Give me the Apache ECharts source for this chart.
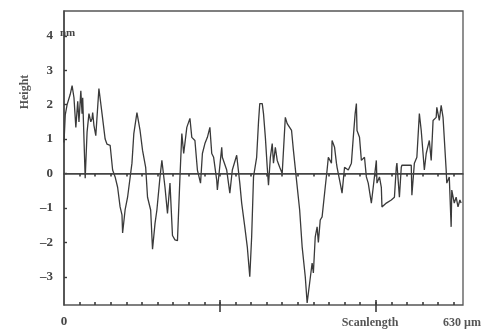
<!DOCTYPE html>
<html>
<head>
<meta charset="utf-8">
<script src="https://cdn.jsdelivr.net/npm/echarts@6/dist/echarts.min.js"></script>
<style>
  html, body { margin: 0; padding: 0; background: #fff; }
  #chart { width: 488px; height: 336px; }
</style>
</head>
<body>
<div id="chart"></div>
<script>
// scan position (µm) and surface height (nm)
const scanX = [
  0, 2, 5, 10, 13, 16, 19, 22, 24, 27, 29, 30, 34, 37, 40, 43, 45, 46, 48, 51,
  56, 61, 66, 69, 74, 78, 82, 86, 90, 93, 94, 98, 102, 109, 112, 117, 122, 126, 131, 134,
  139, 142, 146, 149, 154, 157, 162, 166, 170, 174, 178, 182, 186, 189, 192, 197, 202, 205, 210, 214,
  219, 222, 226, 230, 234, 237, 240, 245, 246, 253, 254, 261, 266, 270, 277, 282, 285, 290, 294, 298,
  301, 304, 309, 312, 314, 318, 320, 323, 326, 328, 331, 334, 336, 339, 342, 346, 350, 355, 358, 365,
  368, 373, 378, 382, 387, 390, 394, 398, 400, 403, 406, 408, 411, 414, 419, 422, 424, 429, 430, 434,
  437, 438, 443, 446, 450, 453, 456, 461, 464, 467, 469, 470, 474, 477, 482, 485, 488, 493, 496, 501,
  502, 506, 509, 510, 517, 525, 530, 533, 534, 538, 541, 542, 550, 557, 558, 562, 566, 570, 573, 578,
  581, 586, 589, 592, 597, 598, 602, 605, 608, 613, 614, 618, 621, 622, 626, 629, 632, 635, 637
];
const height = [
  0.9, 1.7, 2.0, 2.3, 2.55, 2.2, 1.34, 2.1, 1.5, 2.4, 1.74, 2.2, -0.14, 1.2, 1.74, 1.5, 1.6, 1.77, 1.4, 1.1,
  2.47, 1.74, 1.0, 0.85, 0.82, 0.1, -0.1, -0.4, -0.97, -1.2, -1.73, -1.06, -0.69, 0.3, 1.16, 1.77, 1.25, 0.67, 0.18, -0.69,
  -1.06, -2.2, -1.45, -1.06, -0.1, 0.38, -0.4, -1.16, -0.28, -1.8, -1.93, -1.95, -0.1, 1.16, 0.58, 1.34, 1.6, 1.05, 0.96, 0.1,
  -0.28, 0.58, 0.87, 1.05, 1.34, 0.58, 0.47, -0.2, -0.48, 0.76, 0.47, 0.1, -0.57, 0.1, 0.53, -0.28, -0.86, -1.55, -2.13, -3.0,
  -1.84, -0.1, 0.47, 1.5, 2.03, 2.03, 1.74, 1.05, 0.18, -0.34, 0.47, 0.87, 0.3, 0.76, 0.38, 0.18, 0.0, 1.63, 1.45, 1.25,
  0.67, -0.2, -1.06, -2.13, -3.0, -3.76, -3.18, -2.6, -2.89, -1.84, -1.55, -2.0, -1.35, -1.26, -0.4, 0.1, 0.47, 0.3, 0.96, 0.76,
  0.3, 0.18, -0.28, -0.57, 0.18, 0.18, 0.1, 0.3, 1.05, 1.74, 2.03, 1.25, 1.05, 0.38, 0.47, -0.1, -0.28, -0.86, -0.4, 0.38,
  -0.28, -0.1, -0.4, -0.97, -0.86, -0.77, -0.69, 0.18, 0.3, -0.69, 0.18, 0.24, 0.24, 0.24, -0.63, 0.3, 0.47, 1.74, 1.25, 0.1,
  0.58, 0.96, 0.38, 1.54, 1.63, 1.92, 1.54, 1.98, 1.63, 0.1, -0.28, -0.1, -1.55, -0.48, -0.86, -0.69, -0.97, -0.77, -0.86
];
const yTicks = [-3, -2, -1, 0, 1, 2, 3, 4];
const xMinorTicks = [25, 50, 75, 100, 125, 150, 175, 200, 225, 275, 300, 325, 350, 375, 400, 425, 450, 475, 525, 550, 575, 600, 625];
const xMajorTicks = [250, 500];
const xLabels = [0];

const ink = '#3c3c3c';
const serif = '"Liberation Serif", "DejaVu Serif", serif';

const chart = echarts.init(document.getElementById('chart'), null, { renderer: 'canvas' });

function tickAxis(values, len, inside) {
  return {
    type: 'value', min: 0, max: 640, position: 'bottom',
    axisLine: { show: false },
    splitLine: { show: false },
    axisLabel: { show: false },
    axisTick: { show: true, inside, length: len, customValues: values, lineStyle: { color: ink, width: 1.6 } }
  };
}

chart.setOption({
  animation: false,
  backgroundColor: '#fff',
  grid: { left: 64, right: 25, top: 11, bottom: 31, show: true, borderColor: '#555', borderWidth: 1.3 },
  xAxis: [
    {
      type: 'value', min: 0, max: 640, position: 'bottom',
      axisLine: { show: true, lineStyle: { color: '#444', width: 1.5 } },
      splitLine: { show: false },
      axisTick: { show: true, length: 3, customValues: xMinorTicks.concat(xMajorTicks), lineStyle: { color: ink, width: 1.6 } },
      axisLabel: {
        customValues: xLabels, margin: 10, color: '#444',
        fontFamily: serif, fontWeight: 'bold', fontSize: 13
      }
    },
    tickAxis(xMinorTicks.concat(xMajorTicks), 3, true),
    tickAxis(xMajorTicks, 7, false),
    tickAxis(xMajorTicks, 5, true)
  ],
  yAxis: {
    type: 'value', min: -3.82, max: 4.72,
    axisLine: { show: true, lineStyle: { color: '#444', width: 1.5 } },
    splitLine: { show: false },
    axisTick: { show: true, inside: true, length: 3, customValues: yTicks, lineStyle: { color: ink, width: 1.4 } },
    axisLabel: {
      customValues: yTicks, margin: 11, color: '#444',
      fontFamily: serif, fontWeight: 'bold', fontSize: 13,
      formatter: (v) => (v < 0 ? '\u2013' + Math.abs(v) : String(v))
    }
  },
  graphic: [
    { type: 'text', left: 60, top: 28, style: { text: 'nm', fill: '#444', font: 'bold 11px ' + serif } },
    { type: 'text', x: 25, y: 92, rotation: Math.PI / 2,
      style: { text: 'Height', fill: '#555', font: 'bold 12px ' + serif, align: 'center', verticalAlign: 'middle' } },
    { type: 'text', x: 370, y: 323,
      style: { text: 'Scanlength', fill: '#555', font: 'bold 12px ' + serif, align: 'center', verticalAlign: 'middle' } },
    { type: 'text', x: 443, y: 323,
      style: { text: '630 \u00b5m', fill: '#555', font: 'bold 12px ' + serif, align: 'left', verticalAlign: 'middle' } }
  ],
  series: [
    {
      type: 'line',
      showSymbol: false,
      data: scanX.map((x, i) => [x, height[i]]),
      lineStyle: { color: '#3a3a3a', width: 1.3 },
      markLine: {
        silent: true, symbol: 'none', label: { show: false },
        lineStyle: { color: '#444', type: 'solid', width: 1.2 },
        data: [{ yAxis: 0 }]
      }
    }
  ]
});
</script>
</body>
</html>
